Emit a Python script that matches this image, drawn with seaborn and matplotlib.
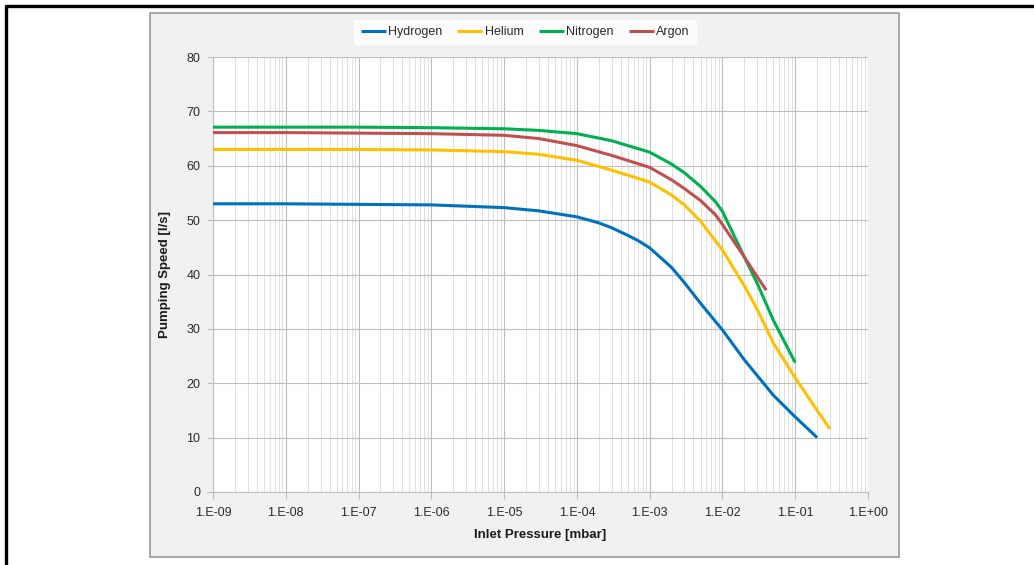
import numpy as np
import pandas as pd
import matplotlib
matplotlib.use("Agg")
import matplotlib.pyplot as plt
from matplotlib.patches import Rectangle
from matplotlib.lines import Line2D
from matplotlib.ticker import FixedLocator, FuncFormatter, LogLocator, NullFormatter
import seaborn as sns

# ---- data ----
h2_p = [1e-9, 1e-8, 1e-7, 1e-6, 1e-5, 3e-5, 1e-4, 2e-4, 3e-4, 5e-4, 7e-4, 1e-3, 2e-3, 3e-3, 5e-3, 1e-2, 2e-2, 5e-2, 1e-1, 2e-1]
h2_s = [53.0, 53.0, 52.9, 52.8, 52.3, 51.7, 50.6, 49.5, 48.6, 47.2, 46.2, 44.9, 41.3, 38.5, 34.7, 29.8, 24.3, 17.8, 13.8, 10.0]

he_p = [1e-9, 1e-8, 1e-7, 1e-6, 1e-5, 3e-5, 1e-4, 3e-4, 1e-3, 2e-3, 3e-3, 5e-3, 1e-2, 2e-2, 3e-2, 5e-2, 1e-1, 2e-1, 3e-1]
he_s = [63.0, 63.0, 63.0, 62.9, 62.6, 62.1, 61.0, 59.2, 57.0, 54.6, 52.8, 49.8, 44.5, 37.9, 33.6, 27.4, 21.0, 15.0, 11.6]

n2_p = [1e-9, 1e-8, 1e-7, 1e-6, 1e-5, 3e-5, 1e-4, 3e-4, 1e-3, 2e-3, 3e-3, 5e-3, 8e-3, 1e-2, 2e-2, 3e-2, 5e-2, 1e-1]
n2_s = [67.1, 67.1, 67.1, 67.0, 66.8, 66.5, 65.9, 64.6, 62.5, 60.3, 58.7, 56.2, 53.4, 51.6, 43.2, 38.4, 31.6, 23.8]

ar_p = [1e-9, 1e-8, 1e-7, 1e-6, 1e-5, 3e-5, 1e-4, 3e-4, 1e-3, 2e-3, 3e-3, 5e-3, 8e-3, 1e-2, 2e-2, 3e-2, 4e-2]
ar_s = [66.1, 66.1, 66.0, 65.9, 65.6, 65.0, 63.7, 61.9, 59.7, 57.4, 55.8, 53.6, 51.0, 49.2, 43.2, 39.6, 37.1]

gases = ["Hydrogen", "Helium", "Nitrogen", "Argon"]
colors = ["#0070C0", "#FFC000", "#00B050", "#C0504D"]
x_ticks = [1e-9, 1e-8, 1e-7, 1e-6, 1e-5, 1e-4, 1e-3, 1e-2, 1e-1, 1e0]
y_ticks = [0, 10, 20, 30, 40, 50, 60, 70, 80]

frames = []
for name, p, s in zip(gases, [h2_p, he_p, n2_p, ar_p], [h2_s, he_s, n2_s, ar_s]):
    frames.append(pd.DataFrame({"p": p, "s": s, "gas": name}))
df = pd.concat(frames, ignore_index=True)

# ---- figure ----
sns.set_theme(style="white")
plt.rcParams["font.family"] = ["Liberation Sans", "DejaVu Sans"]

W, H = 1034, 565
fig = plt.figure(figsize=(W / 100, H / 100), dpi=100)
fig.patch.set_facecolor("white")

# chart box
fig.add_artist(Rectangle((150 / W, 1 - 557 / H), (899 - 150) / W, (557 - 13) / H,
                         transform=fig.transFigure, facecolor="#f1f1f1",
                         edgecolor="#9a9a9a", linewidth=1.2, zorder=0))
# page frame lines (top and left)
fig.add_artist(Line2D([5.5 / W, 1.0], [1 - 5.5 / H, 1 - 5.5 / H], transform=fig.transFigure,
                      color="black", linewidth=2.4))
fig.add_artist(Line2D([5.5 / W, 5.5 / W], [0, 1 - 5.5 / H], transform=fig.transFigure,
                      color="black", linewidth=2.4))

ax = fig.add_axes([213 / W, 1 - 492 / H, (868 - 213) / W, (492 - 57) / H])
ax.set_facecolor("white")

sns.lineplot(data=df, x="p", y="s", hue="gas", hue_order=gases, palette=colors,
             linewidth=2.2, ax=ax, sort=True, estimator=None, zorder=3)
for ln in ax.get_lines():
    ln.set_solid_joinstyle("round")
    ln.set_solid_capstyle("butt")

ax.set_xscale("log")
ax.set_xlim(1e-9, 1e0)
ax.set_ylim(0, 80)
ax.xaxis.set_major_locator(FixedLocator(x_ticks))
ax.xaxis.set_minor_locator(LogLocator(base=10, subs=np.arange(2, 10), numticks=20))
ax.xaxis.set_minor_formatter(NullFormatter())
ax.xaxis.set_major_formatter(FuncFormatter(lambda v, pos: "1.E%+03d" % int(round(np.log10(v)))))
ax.yaxis.set_major_locator(FixedLocator(y_ticks))

ax.grid(which="major", axis="both", color="#bdbdbd", linewidth=0.8)
ax.grid(which="minor", axis="x", color="#e0e0e0", linewidth=0.7)
ax.set_axisbelow(True)

for side in ["top", "right"]:
    ax.spines[side].set_visible(False)
ax.spines["left"].set_color("#bdbdbd")
ax.spines["bottom"].set_color("#bdbdbd")
ax.spines["left"].set_linewidth(0.8)
ax.spines["bottom"].set_linewidth(0.8)

ax.tick_params(axis="x", which="major", direction="out", length=5, width=0.8, color="#bdbdbd",
               labelsize=9, labelcolor="#2a2a2a", pad=6, bottom=True)
ax.tick_params(axis="x", which="minor", length=0, bottom=False)
ax.tick_params(axis="y", which="major", direction="out", length=4, width=0.8, color="#bdbdbd",
               labelsize=9, labelcolor="#2a2a2a", pad=5, left=True)

ax.set_xlabel("Inlet Pressure [mbar]", fontsize=9.5, fontweight="bold", color="#1a1a1a", labelpad=7)
ax.set_ylabel("Pumping Speed [l/s]", fontsize=9.5, fontweight="bold", color="#1a1a1a", labelpad=11)

handles, labels = ax.get_legend_handles_labels()
ax.legend_.remove()
leg = fig.legend(handles, labels, loc="center", bbox_to_anchor=(525 / W, 1 - 32 / H),
                 ncol=4, frameon=True, fontsize=9, handlelength=2.0, handletextpad=0.2,
                 columnspacing=1.2, borderpad=0.5)
leg.get_frame().set_facecolor("white")
leg.get_frame().set_edgecolor("white")
for t in leg.get_texts():
    t.set_color("#2a2a2a")
for l in leg.get_lines():
    l.set_linewidth(2.2)

fig.savefig("out.png", dpi=100, facecolor="white")
